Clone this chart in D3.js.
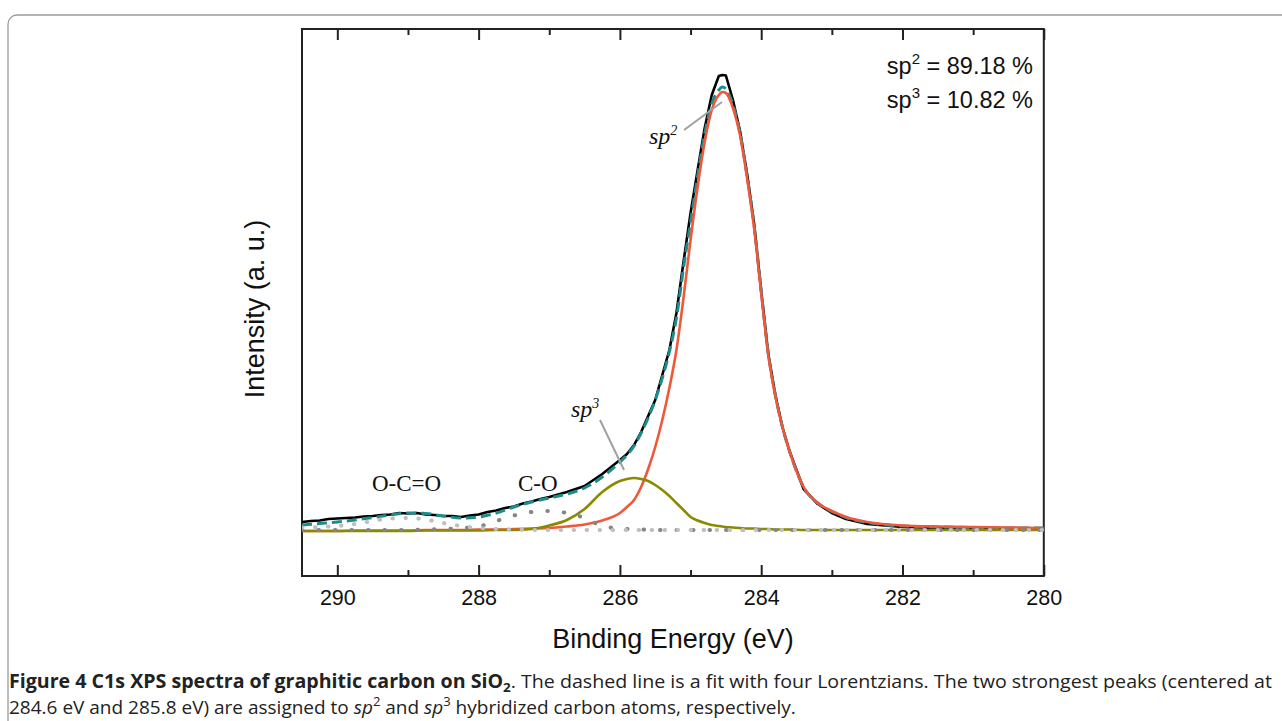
<!DOCTYPE html>
<html>
<head>
<meta charset="utf-8">
<script src="https://cdnjs.cloudflare.com/ajax/libs/d3/7.8.5/d3.min.js"></script>
<style>
  body { margin: 0; background: #fff; }
  .tick line { stroke: #222; stroke-width: 2; }
  .tick text { font-family: "Liberation Sans", Arial, sans-serif; font-size: 21.5px; fill: #111; }
</style>
</head>
<body>
<div id="chart"></div>
<script>

// binding energies of the measured spectrum (eV)
let measuredEnergy = [290.5, 290.375, 290.25, 290.125, 290, 289.875, 289.75, 289.625, 289.5, 289.375,
    289.25, 289.125, 289, 288.875, 288.75, 288.625, 288.5, 288.375, 288.25, 288.125,
    288, 287.875, 287.75, 287.625, 287.5, 287.375, 287.25, 287.125, 287, 286.75,
    286.5, 286.25, 286, 285.9, 285.8, 285.7, 285.6, 285.5, 285.4, 285.3,
    285.2, 285.1, 285, 284.9, 284.8, 284.7, 284.6, 284.55, 284.5, 284.4,
    284.3, 284.2, 284.1, 284, 283.9, 283.8, 283.7, 283.6, 283.4, 283.2,
    283, 282.8, 282.5, 282, 281.5, 281, 280.5, 280];

// measured C1s intensity (a.u.)
let measured = [540, 550, 555, 570, 575, 580, 585, 595, 600, 610,
    615, 630, 625, 630, 615, 610, 600, 600, 590, 605,
    615, 640, 655, 680, 695, 725, 745, 770, 790, 840,
    900, 1020, 1160, 1220, 1310, 1440, 1600, 1760, 2010, 2260,
    2630, 3140, 3630, 4060, 4480, 4810, 5000, 5010, 5005, 4760,
    4450, 4020, 3520, 2850, 2220, 1810, 1490, 1250, 870, 720,
    630, 570, 520, 490, 480, 475, 470, 470];

// energies at which the fit and its components are given
let fitEnergy = [290.5, 290.25, 290, 289.75, 289.5, 289.25, 289, 288.75, 288.5, 288.25,
    288, 287.75, 287.5, 287.25, 287, 286.75, 286.5, 286.25, 286, 285.9,
    285.8, 285.7, 285.6, 285.5, 285.4, 285.3, 285.2, 285.1, 285, 284.9,
    284.8, 284.7, 284.6, 284.55, 284.5, 284.4, 284.3, 284.2, 284.1, 284,
    283.9, 283.8, 283.7, 283.6, 283.4, 283.2, 283, 282.8, 282.5, 282,
    281.5, 281, 280.5, 280];

// sum of four Lorentzians (dashed)
let fitSum = [510, 525, 540, 560, 585, 610, 630, 625, 600, 580,
    590, 630, 690, 740, 780, 820, 880, 990, 1140, 1210,
    1300, 1430, 1580, 1760, 1980, 2240, 2580, 3080, 3540, 4000,
    4420, 4720, 4860, 4890, 4870, 4710, 4430, 4000, 3500, 2850,
    2230, 1810, 1490, 1250, 890, 730, 645, 585, 535, 500,
    490, 485, 480, 480];

// sp2 component (284.6 eV)
let sp2Peak = [450, 450, 450, 455, 455, 455, 455, 460, 460, 460,
    465, 465, 470, 475, 480, 495, 515, 555, 630, 690,
    760, 890, 1070, 1290, 1560, 1880, 2260, 2780, 3360, 3890,
    4340, 4660, 4810, 4840, 4830, 4680, 4410, 3980, 3480, 2830,
    2210, 1800, 1490, 1250, 890, 730, 650, 590, 540, 505,
    495, 490, 485, 480];

// sp3 component (285.8 eV)
let sp3Peak = [450, 450, 450, 450, 450, 450, 450, 455, 455, 455,
    455, 460, 460, 470, 505, 560, 670, 840, 950, 970,
    980, 970, 950, 910, 860, 800, 730, 660, 590, 555,
    530, 510, 500, 495, 490, 485, 480, 475, 475, 470,
    470, 465, 465, 465, 460, 460, 460, 460, 460, 460,
    460, 460, 460, 460];

// C-O component
let coPeak = [460, 460, 460, 460, 460, 460, 460, 465, 470, 478,
    495, 550, 605, 640, 650, 630, 580, 500, 475, 470,
    468, 465, 463, 462, 460, 460, 460, 460, 460, 460,
    460, 460, 460, 460, 460, 460, 460, 460, 460, 460,
    460, 460, 460, 460, 460, 460, 460, 460, 460, 460,
    460, 460, 460, 460];

// O-C=O component
let ocoPeak = [485, 490, 500, 520, 550, 575, 580, 565, 530, 500,
    480, 470, 465, 460, 460, 460, 460, 460, 460, 460,
    460, 460, 460, 460, 460, 460, 460, 460, 460, 460,
    460, 460, 460, 460, 460, 460, 460, 460, 460, 460,
    460, 460, 460, 460, 460, 460, 460, 460, 460, 460,
    460, 460, 460, 460];

let majorTicks = [290, 288, 286, 284, 282, 280];
let minorTicks = [289, 287, 285, 283, 281];

let ratioLabels = [["2", " = 89.18 %"], ["3", " = 10.82 %"]];


class xpsPlot {

    constructor () {
        this.drawChart();
    }

    drawChart () {

        let box = {left: 302, right: 1043.8, top: 29, bottom: 576};

        let svg = d3.select("#chart")
            .append("svg")
            .attr("id", "plot-svg")
            .attr("width", 1282)
            .attr("height", 721);

        // figure frame
        svg.append("rect")
            .attr("x", 8).attr("y", 15)
            .attr("width", 1290).attr("height", 740)
            .attr("rx", 9)
            .attr("fill", "none")
            .attr("stroke", "#9a9a9a")
            .attr("stroke-width", 1.3);

        let xScale = d3.scaleLinear()
            .domain([290.5, 280])
            .range([box.left, box.right]);

        let yScale = d3.scaleLinear()
            .domain([0, 5470])
            .range([box.bottom, box.top]);

        svg.append("clipPath")
            .attr("id", "plot-clip")
            .append("rect")
            .attr("x", box.left).attr("y", box.top)
            .attr("width", box.right - box.left)
            .attr("height", box.bottom - box.top);

        // axes, ticks pointing inwards
        svg.append("g")
            .attr("transform", "translate(0," + box.bottom + ")")
            .call(d3.axisBottom(xScale).tickValues(majorTicks).tickSize(-11).tickPadding(14).tickFormat(d3.format("d")));
        svg.append("g")
            .attr("transform", "translate(0," + box.bottom + ")")
            .call(d3.axisBottom(xScale).tickValues(minorTicks).tickSize(-6).tickFormat(""));
        svg.append("g")
            .attr("transform", "translate(0," + box.top + ")")
            .call(d3.axisTop(xScale).tickValues(majorTicks).tickSize(-11).tickFormat(""));
        svg.append("g")
            .attr("transform", "translate(0," + box.top + ")")
            .call(d3.axisTop(xScale).tickValues(minorTicks).tickSize(-6).tickFormat(""));
        svg.selectAll(".domain").remove();

        svg.append("rect")
            .attr("x", box.left).attr("y", box.top)
            .attr("width", box.right - box.left)
            .attr("height", box.bottom - box.top)
            .attr("fill", "none")
            .attr("stroke", "#222")
            .attr("stroke-width", 2);

        let plot = svg.append("g").attr("clip-path", "url(#plot-clip)");

        let rough = d3.line()
            .x((d) => xScale(d[0]))
            .y((d) => yScale(d[1]));
        let smooth = d3.line()
            .x((d) => xScale(d[0]))
            .y((d) => yScale(d[1]))
            .curve(d3.curveMonotoneX);

        let pair = (xs, ys) => xs.map((x, i) => [x, ys[i]]);

        plot.append("path")
            .attr("d", rough(pair(measuredEnergy, measured)))
            .attr("fill", "none").attr("stroke", "#000")
            .attr("stroke-width", 2.6).attr("stroke-linejoin", "round");

        plot.append("path")
            .attr("d", smooth(pair(fitEnergy, fitSum)))
            .attr("fill", "none").attr("stroke", "#1f8c8c")
            .attr("stroke-width", 3).attr("stroke-dasharray", "10,5");

        plot.append("path")
            .attr("d", smooth(pair(fitEnergy, sp2Peak)))
            .attr("fill", "none").attr("stroke", "#f0583a")
            .attr("stroke-width", 2.6);

        plot.append("path")
            .attr("d", smooth(pair(fitEnergy, sp3Peak)))
            .attr("fill", "none").attr("stroke", "#8a8a00")
            .attr("stroke-width", 2.6);

        plot.append("path")
            .attr("d", smooth(pair(fitEnergy, coPeak)))
            .attr("fill", "none").attr("stroke", "#858585")
            .attr("stroke-width", 4).attr("stroke-linecap", "round")
            .attr("stroke-dasharray", "0.5,16");

        plot.append("path")
            .attr("d", smooth(pair(fitEnergy, ocoPeak)))
            .attr("fill", "none").attr("stroke", "#bfbfbf")
            .attr("stroke-width", 4).attr("stroke-linecap", "round")
            .attr("stroke-dasharray", "0.5,12.5");

        // peak labels with leader lines
        let serif = "'Liberation Serif', 'Times New Roman', serif";

        svg.append("line")
            .attr("x1", 684).attr("y1", 130).attr("x2", 722).attr("y2", 102)
            .attr("stroke", "#a0a0a0").attr("stroke-width", 2);
        svg.append("line")
            .attr("x1", 600).attr("y1", 420).attr("x2", 624).attr("y2", 470)
            .attr("stroke", "#a0a0a0").attr("stroke-width", 2);

        let peakNames = [["sp", "2", 649, 144], ["sp", "3", 571, 417]];
        peakNames.forEach(function (p) {
            let t = svg.append("text")
                .attr("x", p[2]).attr("y", p[3])
                .attr("font-family", serif)
                .attr("font-style", "italic")
                .attr("font-size", 24)
                .attr("fill", "#111");
            t.append("tspan").text(p[0]);
            t.append("tspan").attr("dy", -9).attr("font-size", 14).text(p[1]);
        });

        svg.append("text")
            .attr("x", 372).attr("y", 491)
            .attr("font-family", serif).attr("font-size", 23).attr("fill", "#111")
            .text("O-C=O");
        svg.append("text")
            .attr("x", 518).attr("y", 491)
            .attr("font-family", serif).attr("font-size", 23).attr("fill", "#111")
            .text("C-O");

        // sp2 / sp3 ratio
        ratioLabels.forEach(function (r, i) {
            let t = svg.append("text")
                .attr("x", 1033).attr("y", 74 + i * 34)
                .attr("text-anchor", "end")
                .attr("font-family", "'Liberation Sans', Arial, sans-serif")
                .attr("font-size", 23.5)
                .attr("fill", "#111");
            t.append("tspan").text("sp");
            t.append("tspan").attr("dy", -10).attr("font-size", 15).text(r[0]);
            t.append("tspan").attr("dy", 10).text(r[1]);
        });

        // axis titles
        svg.append("text")
            .attr("x", 673).attr("y", 648)
            .attr("text-anchor", "middle")
            .attr("font-family", "'Liberation Sans', Arial, sans-serif")
            .attr("font-size", 27).attr("fill", "#111")
            .text("Binding Energy (eV)");

        svg.append("text")
            .attr("transform", "translate(264,309)rotate(-90)")
            .attr("text-anchor", "middle")
            .attr("font-family", "'Liberation Sans', Arial, sans-serif")
            .attr("font-size", 27).attr("fill", "#111")
            .text("Intensity (a. u.)");

        this.drawCaption(svg);
    }

    drawCaption (svg) {
        let font = "'Open Sans', 'Noto Sans', sans-serif";

        let line1 = svg.append("text")
            .attr("x", 9).attr("y", 688)
            .attr("font-family", font).attr("font-size", 19).attr("fill", "#222")
            .attr("textLength", 1263).attr("lengthAdjust", "spacingAndGlyphs");
        line1.append("tspan").attr("font-weight", "bold").text("Figure 4 C1s XPS spectra of graphitic carbon on SiO");
        line1.append("tspan").attr("font-weight", "bold").attr("dy", 4).attr("font-size", 13).text("2");
        line1.append("tspan").attr("dy", -4)
            .text(". The dashed line is a fit with four Lorentzians. The two strongest peaks (centered at");

        let line2 = svg.append("text")
            .attr("x", 9).attr("y", 714)
            .attr("font-family", font).attr("font-size", 19).attr("fill", "#222");
        line2.append("tspan").text("284.6 eV and 285.8 eV) are assigned to ");
        line2.append("tspan").attr("font-style", "italic").text("sp");
        line2.append("tspan").attr("dy", -8).attr("font-size", 13).text("2");
        line2.append("tspan").attr("dy", 8).text(" and ");
        line2.append("tspan").attr("font-style", "italic").text("sp");
        line2.append("tspan").attr("dy", -8).attr("font-size", 13).text("3");
        line2.append("tspan").attr("dy", 8).text(" hybridized carbon atoms, respectively.");
    }
}

new xpsPlot();

</script>
</body>
</html>
